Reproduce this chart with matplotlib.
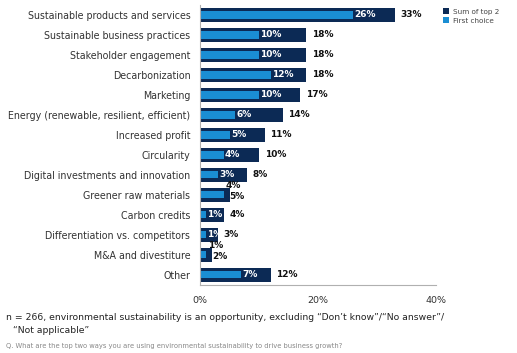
import matplotlib.pyplot as plt

categories = [
    "Sustainable products and services",
    "Sustainable business practices",
    "Stakeholder engagement",
    "Decarbonization",
    "Marketing",
    "Energy (renewable, resilient, efficient)",
    "Increased profit",
    "Circularity",
    "Digital investments and innovation",
    "Greener raw materials",
    "Carbon credits",
    "Differentiation vs. competitors",
    "M&A and divestiture",
    "Other",
]
sum_top2 = [33, 18, 18, 18, 17, 14, 11, 10, 8, 5, 4, 3, 2, 12]
first_choice = [26, 10, 10, 12, 10, 6, 5, 4, 3, 4, 1, 1, 1, 7]
xticks = [0, 20, 40]

dark = "#0c2a55"
light = "#1a8ed3"
plt.rcParams['font.family'] = ['DejaVu Sans']

fig = plt.figure(figsize=(5.17, 3.53), dpi=100)
ax = fig.add_axes([0.387, 0.193, 0.456, 0.793])

y = list(range(len(categories)))
ax.barh(y, sum_top2, height=0.68, color=dark, label="Sum of top 2")
ax.barh(y, first_choice, height=0.36, color=light, label="First choice")

lab = dict(ha="left", va="center", fontsize=6.5, fontweight="bold",
           textcoords="offset points")
for i, (s, f) in enumerate(zip(sum_top2, first_choice)):
    if s - f <= 1:
        # labels stacked next to short bars
        ax.annotate(f"{f}%", (s, i), xytext=(-3, 6.5), color="#111111", **lab)
        ax.annotate(f"{s}%", (s, i), xytext=(0, -1), color="#111111", **lab)
    else:
        ax.annotate(f"{f}%", (f, i), xytext=(1, 0), color="white", **lab)
        ax.annotate(f"{s}%", (s, i), xytext=(4, 0), color="#111111", **lab)

ax.set_ylim(len(categories) - 0.5, -0.5)
ax.set_xlim(0, 40)
ax.set_yticks(y)
ax.set_yticklabels(categories, fontsize=6.85, color="#333333")
ax.set_xticks(xticks)
ax.set_xticklabels([f"{t}%" for t in xticks], fontsize=6.8, color="#333333")
ax.tick_params(length=0, pad=7)
ax.tick_params(axis="x", pad=8)
for side in ["top", "right"]:
    ax.spines[side].set_visible(False)
for side in ["left", "bottom"]:
    ax.spines[side].set_color("#b0b0b0")
    ax.spines[side].set_linewidth(0.8)

fig.legend(loc="upper left", bbox_to_anchor=(0.845, 0.995), frameon=False,
           fontsize=5.2, handlelength=0.8, handleheight=0.8, handletextpad=0.5,
           labelspacing=0.4, labelcolor="#444444")

fig.text(0.012, 0.1, "n = 266, environmental sustainability is an opportunity, excluding \u201cDon\u2019t know\u201d/\u201cNo answer\u201d/",
         fontsize=6.7, color="#222222", va="center")
fig.text(0.025, 0.063, "\u201cNot applicable\u201d", fontsize=6.7, color="#222222", va="center")
fig.text(0.012, 0.02, "Q. What are the top two ways you are using environmental sustainability to drive business growth?",
         fontsize=4.9, color="#888888", va="center")

fig.savefig("out.png", dpi=100)
